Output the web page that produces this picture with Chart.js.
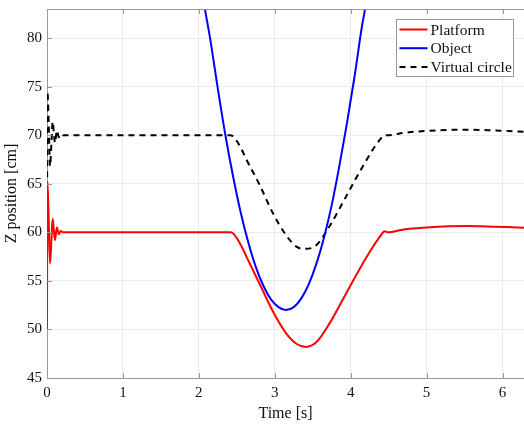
<!DOCTYPE html>
<html>
<head>
<meta charset="utf-8">
<script src="https://cdn.jsdelivr.net/npm/chart.js@4/dist/chart.umd.min.js"></script>
<style>
  body { margin: 0; background: #fff; }
  canvas { display: block; }
</style>
</head>
<body>
<canvas id="myChart" width="524" height="424"></canvas>
<script>
// time [s] and z position [cm]
const platformT = [0, 0.005, 0.02, 0.04, 0.06, 0.075, 0.09, 0.105, 0.13, 0.155, 0.18, 0.21,
  2.41, 2.45, 2.5, 2.56, 2.63, 2.8, 2.98, 3.15, 3.29, 3.41, 3.55, 3.72, 3.94, 4.16, 4.38,
  4.45, 4.49, 4.7, 5.0, 5.3, 5.55, 5.8, 6.05, 6.283];
const platformZ = [50, 65.2, 62, 56.8, 59.5, 61.4, 60.2, 59.2, 60.5, 59.8, 60.15, 60,
  60, 59.9, 59.4, 58.6, 57.45, 54.7, 51.8, 49.6, 48.5, 48.2, 48.7, 50.6, 53.7, 56.8, 59.5,
  60.1, 60.0, 60.3, 60.5, 60.62, 60.65, 60.6, 60.55, 60.47];

const objectT = [2.08, 2.15, 2.25, 2.35, 2.45, 2.55, 2.65, 2.75, 2.85, 2.95, 3.05, 3.145,
  3.25, 3.35, 3.45, 3.55, 3.65, 3.75, 3.85, 3.95, 4.05, 4.15, 4.19];
const objectZ = [83, 79.9, 74.8, 70.0, 65.8, 62.1, 59.0, 56.45, 54.5, 53.1, 52.3, 52.0,
  52.3, 53.2, 54.7, 56.8, 59.5, 62.8, 66.8, 71.2, 76.0, 81.3, 83];

const circleT = [0, 0.005, 0.02, 0.04, 0.06, 0.075, 0.09, 0.105, 0.13, 0.155, 0.18, 0.21,
  2.41, 2.45, 2.5, 2.56, 2.63, 2.8, 2.98, 3.15, 3.29, 3.41, 3.55, 3.72, 3.94, 4.16, 4.38,
  4.45, 4.49, 4.7, 5.0, 5.3, 5.55, 5.8, 6.05, 6.283];
const circleZ = [60, 74.5, 72, 66.8, 69.5, 71.4, 70.2, 69.2, 70.5, 69.8, 70.15, 70,
  70, 69.9, 69.4, 68.6, 67.45, 64.9, 61.9, 59.7, 58.5, 58.3, 58.7, 60.6, 63.7, 66.8, 69.5,
  70.0, 70.0, 70.25, 70.45, 70.55, 70.57, 70.52, 70.45, 70.35];

const xTicks = [0, 1, 2, 3, 4, 5, 6];
const yTicks = [45, 50, 55, 60, 65, 70, 75, 80];

const serif = "'Liberation Serif', 'Times New Roman', serif";
const axisGray = '#999999';

function toPoints(ts, zs) {
  let pts = [];
  for (let i = 0; i < ts.length; i++) {
    pts.push({ x: ts[i], y: zs[i] });
  }
  return pts;
}

// top border plus the small inward tick marks
const framePlugin = {
  id: 'frame',
  afterDraw(chart) {
    const ctx = chart.ctx;
    const a = chart.chartArea;
    const xs = chart.scales.x;
    const ys = chart.scales.y;
    ctx.save();
    ctx.strokeStyle = axisGray;
    ctx.lineWidth = 1;
    ctx.beginPath();
    ctx.moveTo(a.left, a.top + 0.5);
    ctx.lineTo(a.right, a.top + 0.5);
    for (let i = 0; i < xTicks.length; i++) {
      const px = Math.round(xs.getPixelForValue(xTicks[i])) + 0.5;
      ctx.moveTo(px, a.top);
      ctx.lineTo(px, a.top + 5);
      ctx.moveTo(px, a.bottom);
      ctx.lineTo(px, a.bottom - 5);
    }
    for (let i = 0; i < yTicks.length; i++) {
      const py = Math.round(ys.getPixelForValue(yTicks[i])) + 0.5;
      ctx.moveTo(a.left, py);
      ctx.lineTo(a.left + 5, py);
    }
    ctx.stroke();
    ctx.restore();
  }
};

// legend box in the upper right corner of the plot
const legendPlugin = {
  id: 'legendBox',
  afterDraw(chart) {
    const ctx = chart.ctx;
    const a = chart.chartArea;
    const boxX = a.right - 127.5;
    const boxY = a.top + 10.5;
    ctx.save();
    ctx.fillStyle = '#fff';
    ctx.fillRect(boxX, boxY, 117, 57);
    ctx.strokeStyle = axisGray;
    ctx.lineWidth = 1;
    ctx.strokeRect(boxX, boxY, 117, 57);
    ctx.font = '15.5px ' + serif;
    ctx.textBaseline = 'middle';
    chart.data.datasets.forEach(function (ds, i) {
      const y = boxY + 10 + i * 18.7;
      ctx.strokeStyle = ds.borderColor;
      ctx.lineWidth = 2;
      ctx.setLineDash(ds.borderDash || []);
      ctx.beginPath();
      ctx.moveTo(boxX + 3, y);
      ctx.lineTo(boxX + 31, y);
      ctx.stroke();
      ctx.setLineDash([]);
      ctx.fillStyle = '#111';
      ctx.fillText(ds.label, boxX + 34, y + 1);
    });
    ctx.restore();
  }
};

const ctx = document.getElementById('myChart').getContext('2d');
const chart = new Chart(ctx, {
  type: 'line',
  data: {
    datasets: [{
      label: 'Platform',
      data: toPoints(platformT, platformZ),
      borderColor: '#ff0000',
      borderWidth: 2,
      pointRadius: 0,
      cubicInterpolationMode: 'monotone'
    }, {
      label: 'Object',
      data: toPoints(objectT, objectZ),
      borderColor: '#0000ff',
      borderWidth: 2,
      pointRadius: 0,
      cubicInterpolationMode: 'monotone'
    }, {
      label: 'Virtual circle',
      data: toPoints(circleT, circleZ),
      borderColor: '#000000',
      borderWidth: 2,
      borderDash: [6, 5],
      pointRadius: 0,
      cubicInterpolationMode: 'monotone'
    }]
  },
  options: {
    responsive: false,
    animation: false,
    devicePixelRatio: 1,
    layout: { padding: { top: 9, right: 0, left: 0, bottom: 0 } },
    plugins: {
      legend: { display: false },
      tooltip: { enabled: false }
    },
    scales: {
      x: {
        type: 'linear',
        min: 0,
        max: 6.283,
        afterBuildTicks: function (scale) {
          scale.ticks = xTicks.map(function (v) { return { value: v }; });
        },
        afterFit: function (scale) {
          scale.height = 46;
          scale.paddingRight = 0;
        },
        grid: { color: '#ebebeb', drawTicks: false },
        border: { color: axisGray },
        ticks: { padding: 6, color: '#111', font: { family: serif, size: 15 } },
        title: {
          display: true,
          text: 'Time [s]',
          color: '#111',
          font: { family: serif, size: 16 },
          padding: { top: 0, bottom: 1 }
        }
      },
      y: {
        min: 45,
        max: 83,
        afterBuildTicks: function (scale) {
          scale.ticks = yTicks.map(function (v) { return { value: v }; });
        },
        afterFit: function (scale) {
          scale.width = 47;
          scale.paddingTop = 0;
          scale.paddingBottom = 0;
        },
        grid: { color: '#ebebeb', drawTicks: false },
        border: { color: axisGray },
        ticks: { padding: 5, color: '#111', font: { family: serif, size: 15 } },
        title: {
          display: true,
          text: 'Z position [cm]',
          color: '#111',
          font: { family: serif, size: 16 },
          padding: { top: 2, bottom: 0 }
        }
      }
    }
  },
  plugins: [framePlugin, legendPlugin]
});
</script>
</body>
</html>
